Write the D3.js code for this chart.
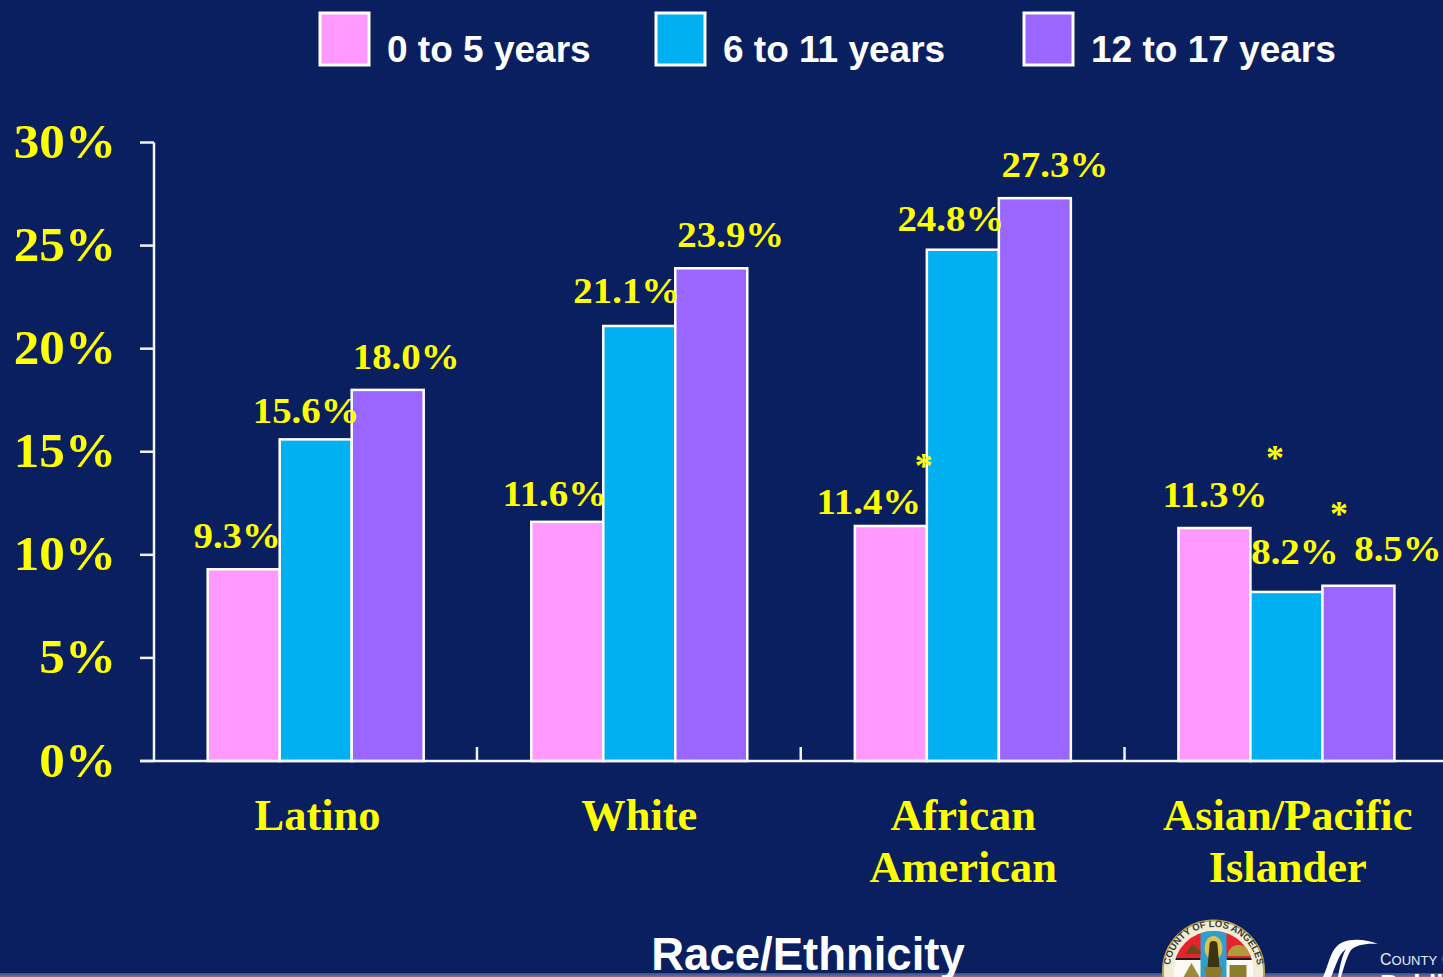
<!DOCTYPE html>
<html><head><meta charset="utf-8">
<script src="https://cdn.jsdelivr.net/npm/d3@7/dist/d3.min.js"></script>
<style>html,body{margin:0;padding:0;background:#0a1f5f;overflow:hidden}svg{display:block}
.serif{font-family:"Liberation Serif",serif;font-weight:700;fill:#ffff00}
.sans{font-family:"Liberation Sans",sans-serif;font-weight:700;fill:#fff}</style></head>
<body><svg id="c" width="1443" height="977"></svg>
<script>
const categories=[["Latino"],["White"],["African","American"],["Asian/Pacific","Islander"]];
const seriesNames=["0 to 5 years","6 to 11 years","12 to 17 years"];
const colors=["#ff99ff","#00b0f0","#9966ff"];
const age0to5=[9.3,11.6,11.4,11.3];
const age6to11=[15.6,21.1,24.8,8.2];
const age12to17=[18.0,23.9,27.3,8.5];
const yTicks=[0,5,10,15,20,25,30];
const seriesValues=[age0to5,age6to11,age12to17];
// label nudges relative to bar centre / top [dx, dy] by category then series
const labelNudge=[[[-6.5,-32],[-9.5,-27.5],[18.5,-32]],[[-12.5,-27],[-12.5,-34],[19.5,-32]],[[-22,-23],[-12,-30],[20,-32]],[[0.5,-32],[8.5,-38.5],[39.5,-36]]];
const starred=[[2,1,-39,204],[3,1,-11.5,-146],[3,2,-19.5,-84]];
const catNudge=[2,0.2,0.6,1.5];

const svg=d3.select("#c");
const W=1443,H=977;
svg.append("rect").attr("width",W).attr("height",H).attr("fill","#0a1f5f");
const strip=svg.append("defs").append("linearGradient").attr("id","strip").attr("x1",0).attr("x2",0).attr("y1",0).attr("y2",1);
strip.append("stop").attr("offset",0).attr("stop-color","#3a4c85");
strip.append("stop").attr("offset",1).attr("stop-color","#6a78a4");
svg.append("rect").attr("y",973).attr("width",W).attr("height",4).attr("fill","url(#strip)");
const y=d3.scaleLinear().domain([0,30]).range([761,142.5]);
const x0=d3.scaleBand().domain(d3.range(4)).range([153.7,1448]);
const x1=d3.scaleBand().domain(d3.range(3)).range([54,270]);
// horizontally stretched text, as in the source slide
function stretched(x,yy,sx,cls,size,anchor,t){
  return svg.append("text").attr("class",cls).attr("text-anchor",anchor).attr("font-size",size)
    .attr("transform",`translate(${x},${yy}) scale(${sx},1)`).text(t);
}

// bars
const g=svg.append("g");
categories.forEach((c,i)=>{
  g.selectAll(null).data(seriesValues.map(s=>s[i])).join("rect")
   .attr("x",(d,j)=>x0(i)+x1(j)).attr("width",x1.bandwidth())
   .attr("y",d=>y(d)).attr("height",d=>y(0)-y(d))
   .attr("fill",(d,j)=>colors[j]).attr("stroke","#fff").attr("stroke-width",2.5);
});
// axes
const ax=svg.append("g").attr("stroke","#f2f2f8").attr("stroke-width",2.5);
ax.append("line").attr("x1",154).attr("x2",154).attr("y1",y(30)).attr("y2",y(0));
ax.append("line").attr("x1",140).attr("x2",1443).attr("y1",y(0)).attr("y2",y(0));
ax.selectAll(null).data(yTicks).join("line").attr("x1",140).attr("x2",154).attr("y1",d=>y(d)).attr("y2",d=>y(d));
ax.selectAll(null).data([1,2,3]).join("line").attr("x1",d=>x0(d)+d*0.2-0.5).attr("x2",d=>x0(d)+d*0.2-0.5).attr("y1",747).attr("y2",761);
// y tick labels
yTicks.forEach(d=>stretched(116,y(d)+15.5,1.065,"serif",48,"end",d+"%"));
// category labels
categories.forEach((c,i)=>{
  c.forEach((t,k)=>stretched(x0(i)+x0.bandwidth()/2+catNudge[i],830+k*51.5,1.01,"serif",44,"middle",t));
});
// value labels
categories.forEach((c,i)=>seriesValues.forEach((s,j)=>{
  const n=labelNudge[i][j];
  stretched(x0(i)+x1(j)+x1.bandwidth()/2+n[0],y(s[i])+n[1]+11,1.08,"serif",36,"middle",s[i].toFixed(1)+"%");
}));
// asterisks
starred.forEach(([i,j,dx,dy])=>{
  svg.append("text").attr("class","serif").attr("text-anchor","middle")
   .attr("x",x0(i)+x1(j)+x1.bandwidth()/2+dx).attr("y",y(seriesValues[j][i])+dy+24)
   .attr("font-size",36).text("*");
});
// legend
const legX=[319,655,1023];
seriesNames.forEach((t,j)=>{
  svg.append("rect").attr("x",legX[j]+1).attr("y",13).attr("width",49).attr("height",52)
   .attr("fill",colors[j]).attr("stroke","#fff").attr("stroke-width",3);
  svg.append("text").attr("class","sans").attr("x",legX[j]+68).attr("y",62).attr("font-size",37).text(t);
});
svg.append("text").attr("class","sans").attr("x",808).attr("y",970).attr("text-anchor","middle").attr("font-size",45.5).text("Race/Ethnicity");

// seal
const cx=1213.5,cy=971,seal=svg.append("g");
svg.select("defs").append("clipPath").attr("id","inner").append("circle").attr("cx",cx).attr("cy",cy).attr("r",40);
seal.append("circle").attr("cx",cx).attr("cy",cy).attr("r",50.5).attr("fill","#f1ecd6").attr("stroke","#b9a55a").attr("stroke-width",2);
seal.append("path").attr("id","ring").attr("fill","none").attr("d",`M${cx-44} ${cy}A44 44 0 0 1 ${cx+44} ${cy}`);
seal.append("text").attr("font-family","Liberation Sans").attr("font-weight",700).attr("font-size",9.5).attr("fill","#3b3b30")
 .append("textPath").attr("href","#ring").attr("startOffset","50%").attr("text-anchor","middle").text("COUNTY OF LOS ANGELES");
const inner=seal.append("g").attr("clip-path","url(#inner)");
inner.append("rect").attr("x",cx-40).attr("y",cy-40).attr("width",80).attr("height",80).attr("fill","#fbfaf2");
inner.append("rect").attr("x",cx-40).attr("y",cy-40).attr("width",80).attr("height",27).attr("fill","#e8222a");
inner.append("rect").attr("x",cx-13).attr("y",cy-40).attr("width",26).attr("height",50).attr("fill","#2f9fd0");
inner.append("rect").attr("x",cx-40).attr("y",cy-13).attr("width",27).attr("height",2).attr("fill","#1c1c1c");
inner.append("rect").attr("x",cx+13).attr("y",cy-13).attr("width",27).attr("height",2).attr("fill","#1c1c1c");
inner.append("ellipse").attr("cx",cx).attr("cy",cy-23).attr("rx",9).attr("ry",12).attr("fill","#dcc24e");
inner.append("path").attr("d",`M${cx-6} ${cy-4}L${cx-4} ${cy-26}A4 4 0 0 1 ${cx+4} ${cy-26}L${cx+6} ${cy-4}Z`).attr("fill","#3a3410");
inner.append("path").attr("d",`M${cx-10} ${cy-4}h20l-4 12h-12z`).attr("fill","#8a7a2a");
inner.append("path").attr("d",`M${cx-29} ${cy-17}h16v-3l-8-7z`).attr("fill","#6a4a1a");
inner.append("path").attr("d",`M${cx+14} ${cy-15}a11 11 0 0 1 22 0z`).attr("fill","#b09c38");
inner.append("path").attr("d",`M${cx-30} ${cy+6}l8 -14l8 14z`).attr("fill","#9a8a3a");
inner.append("rect").attr("x",cx+16).attr("y",cy-6).attr("width",17).attr("height",12).attr("fill","#8d7e2c");

// public health logo
const logo=svg.append("g").attr("fill","#fff");
logo.append("path").attr("d","M1323 977C1330 962 1330 948 1343 942C1354 938 1368 940 1378 944C1366 943 1356 945 1351 950C1346 958 1344 968 1341 977L1338 977C1340 966 1342 956 1346 949C1338 955 1336 966 1331 977Z");
const county=logo.append("text").attr("x",1380).attr("y",965).attr("font-family","Liberation Sans").attr("font-size",16).attr("fill","#e8eef8");
county.append("tspan").text("C");
county.append("tspan").attr("font-size",13).text("OUNTY");
county.append("tspan").attr("dx",5).text("O");
logo.append("text").attr("x",1380).attr("y",993).attr("font-family","Liberation Sans").attr("font-weight",700).attr("font-size",26).text("Public");
</script></body></html>
